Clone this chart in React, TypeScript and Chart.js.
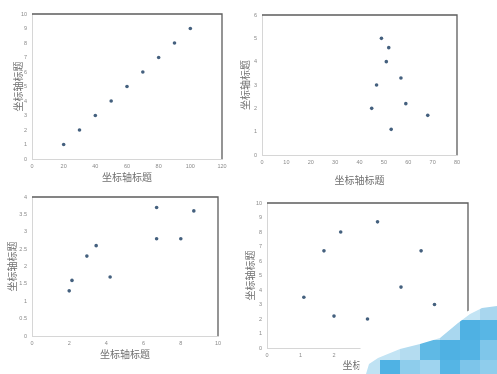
import React, { useEffect, useRef } from "react";
import { Chart, registerables } from "chart.js";

Chart.register(...registerables);

const AXIS_TITLE = "坐标轴标题";

// Chart 1 (top-left)
const c1X = [20, 30, 40, 50, 60, 70, 80, 90, 100];
const c1Y = [1, 2, 3, 4, 5, 6, 7, 8, 9];
const c1XRange = [0, 120, 20];
const c1YRange = [0, 10, 1];

// Chart 2 (top-right)
const c2X = [49, 52, 51, 57, 47, 45, 59, 68, 53];
const c2Y = [5, 4.6, 4, 3.3, 3, 2, 2.2, 1.7, 1.1];
const c2XRange = [0, 80, 10];
const c2YRange = [0, 6, 1];

// Chart 3 (bottom-left)
const c3X = [2, 2.15, 2.95, 3.45, 4.2, 6.7, 6.7, 8, 8.7];
const c3Y = [1.3, 1.6, 2.3, 2.6, 1.7, 3.7, 2.8, 2.8, 3.6];
const c3XRange = [0, 10, 2];
const c3YRange = [0, 4, 0.5];

// Chart 4 (bottom-right)
const c4X = [1.1, 1.7, 2.0, 2.2, 3.0, 3.3, 4.0, 4.6, 5.0];
const c4Y = [3.5, 6.7, 2.2, 8.0, 2.0, 8.7, 4.2, 6.7, 3.0];
const c4XRange = [0, 6, 1];
const c4YRange = [0, 10, 1];

const framePlugin = {
  id: "frame",
  beforeDatasetsDraw(chart: any) {
    const { ctx, chartArea } = chart;
    ctx.save();
    ctx.strokeStyle = "#5c5c5c";
    ctx.lineWidth = 1.3;
    ctx.beginPath();
    ctx.moveTo(chartArea.left, chartArea.top);
    ctx.lineTo(chartArea.right, chartArea.top);
    ctx.lineTo(chartArea.right, chartArea.bottom);
    ctx.stroke();
    ctx.restore();
  },
};

type PanelProps = {
  xs: number[];
  ys: number[];
  xr: number[];
  yr: number[];
  box: { left: number; top: number; width: number; height: number };
  pad: { left: number; right: number; top: number; bottom: number };
  yW: number;
  xH: number;
};

const fmt = (v: any) => String(Number(v));

function Panel({ xs, ys, xr, yr, box, pad, yW, xH }: PanelProps) {
  const ref = useRef<HTMLCanvasElement | null>(null);
  useEffect(() => {
    if (!ref.current) return;
    const tickFont = { family: "'Liberation Sans', Arial, sans-serif", size: 5.5 };
    const titleFont = { family: "'Noto Sans CJK SC', sans-serif", size: 10 };
    const chart = new Chart(ref.current, {
      type: "scatter",
      data: {
        datasets: [
          {
            data: xs.map((x, i) => ({ x, y: ys[i] })),
            backgroundColor: "#44607e",
            borderColor: "#44607e",
            pointRadius: 1.8,
            pointBorderWidth: 0,
          },
        ],
      },
      options: {
        responsive: false,
        animation: false,
        devicePixelRatio: 1,
        layout: { padding: pad },
        plugins: { legend: { display: false }, tooltip: { enabled: false }, title: { display: false } },
        scales: {
          x: {
            type: "linear",
            min: xr[0],
            max: xr[1],
            grid: { display: false, drawTicks: false },
            border: { display: true, color: "#d6d6d6", width: 1 },
            ticks: { stepSize: xr[2], font: tickFont, color: "#8a8a8a", padding: 4, maxRotation: 0, callback: fmt },
            title: { display: true, text: AXIS_TITLE, font: titleFont, color: "#707070", padding: 0 },
            afterFit: (s: any) => {
              s.height = xH;
            },
          },
          y: {
            type: "linear",
            min: yr[0],
            max: yr[1],
            grid: { display: false, drawTicks: false },
            border: { display: true, color: "#d6d6d6", width: 1 },
            ticks: { stepSize: yr[2], font: tickFont, color: "#8a8a8a", padding: 5, callback: fmt },
            title: { display: true, text: AXIS_TITLE, font: titleFont, color: "#707070", padding: 0 },
            afterFit: (s: any) => {
              s.width = yW;
            },
          },
        },
      },
      plugins: [framePlugin],
    } as any);
    return () => chart.destroy();
  }, []);
  return (
    <canvas
      ref={ref}
      width={box.width}
      height={box.height}
      style={{ position: "absolute", left: box.left, top: box.top, width: box.width, height: box.height }}
    />
  );
}

function Watermark() {
  const cells: [number, number, number, number, string][] = [
    [355, 360, 25, 14, "#bfe2f3"],
    [380, 360, 20, 14, "#4fb2e4"],
    [400, 360, 20, 14, "#8ecdec"],
    [420, 360, 20, 14, "#9fd4ef"],
    [440, 360, 20, 14, "#55b5e5"],
    [460, 360, 20, 14, "#7dc5ea"],
    [480, 360, 17, 14, "#8fcdec"],
    [355, 340, 45, 20, "#c3e4f4"],
    [400, 340, 20, 20, "#b4dcf0"],
    [420, 340, 20, 20, "#5fb9e5"],
    [440, 340, 20, 20, "#4fb1e3"],
    [460, 340, 20, 20, "#53b3e4"],
    [480, 340, 17, 20, "#7fc6ea"],
    [400, 320, 40, 20, "#c3e4f4"],
    [440, 320, 20, 20, "#a9d7ef"],
    [460, 320, 20, 20, "#4fb1e3"],
    [480, 320, 17, 20, "#58b6e5"],
    [440, 300, 40, 20, "#c3e4f4"],
    [480, 300, 17, 20, "#a8d6ee"],
  ];
  const ox = 355;
  const oy = 300;
  const white = [
    [359, 374], [360, 349], [363, 346], [400, 345], [420, 340], [440, 333],
    [455, 321], [466, 312], [480, 305], [497, 303], [497, 374],
  ];
  const blue = [
    [366, 374], [369, 364], [378, 358], [400, 349], [420, 344], [440, 338],
    [458, 323], [470, 314], [482, 308], [497, 306], [497, 374],
  ];
  const poly = (pts: number[][]) =>
    "polygon(" + pts.map(([x, y]) => `${x - ox}px ${y - oy}px`).join(", ") + ")";
  return (
    <>
      <div
        style={{
          position: "absolute",
          left: ox,
          top: oy,
          width: 497 - ox,
          height: 374 - oy,
          background: "#ffffff",
          clipPath: poly(white),
        }}
      />
      <div
        style={{
          position: "absolute",
          left: ox,
          top: oy,
          width: 497 - ox,
          height: 374 - oy,
          clipPath: poly(blue),
        }}
      >
        {cells.map(([x, y, w, h, c], i) => (
          <div
            key={i}
            style={{ position: "absolute", left: x - ox, top: y - oy, width: w, height: h, background: c }}
          />
        ))}
      </div>
    </>
  );
}

export default function App() {
  return (
    <div
      style={{
        position: "absolute",
        left: 0,
        top: 0,
        width: 497,
        height: 374,
        background: "#ffffff",
        overflow: "hidden",
      }}
    >
      <Panel
        xs={c1X}
        ys={c1Y}
        xr={c1XRange}
        yr={c1YRange}
        box={{ left: 0, top: 0, width: 235, height: 190 }}
        pad={{ left: 12, right: 13, top: 14, bottom: 7 }}
        yW={20}
        xH={24}
      />
      <Panel
        xs={c2X}
        ys={c2Y}
        xr={c2XRange}
        yr={c2YRange}
        box={{ left: 235, top: 0, width: 262, height: 190 }}
        pad={{ left: 4, right: 40, top: 15, bottom: 4 }}
        yW={23}
        xH={31}
      />
      <Panel
        xs={c3X}
        ys={c3Y}
        xr={c3XRange}
        yr={c3YRange}
        box={{ left: 0, top: 185, width: 235, height: 189 }}
        pad={{ left: 6, right: 17, top: 12, bottom: 14 }}
        yW={26}
        xH={24}
      />
      <Panel
        xs={c4X}
        ys={c4Y}
        xr={c4XRange}
        yr={c4YRange}
        box={{ left: 235, top: 185, width: 262, height: 189 }}
        pad={{ left: 9, right: 29, top: 18, bottom: 3 }}
        yW={23}
        xH={23}
      />
      <Watermark />
    </div>
  );
}
